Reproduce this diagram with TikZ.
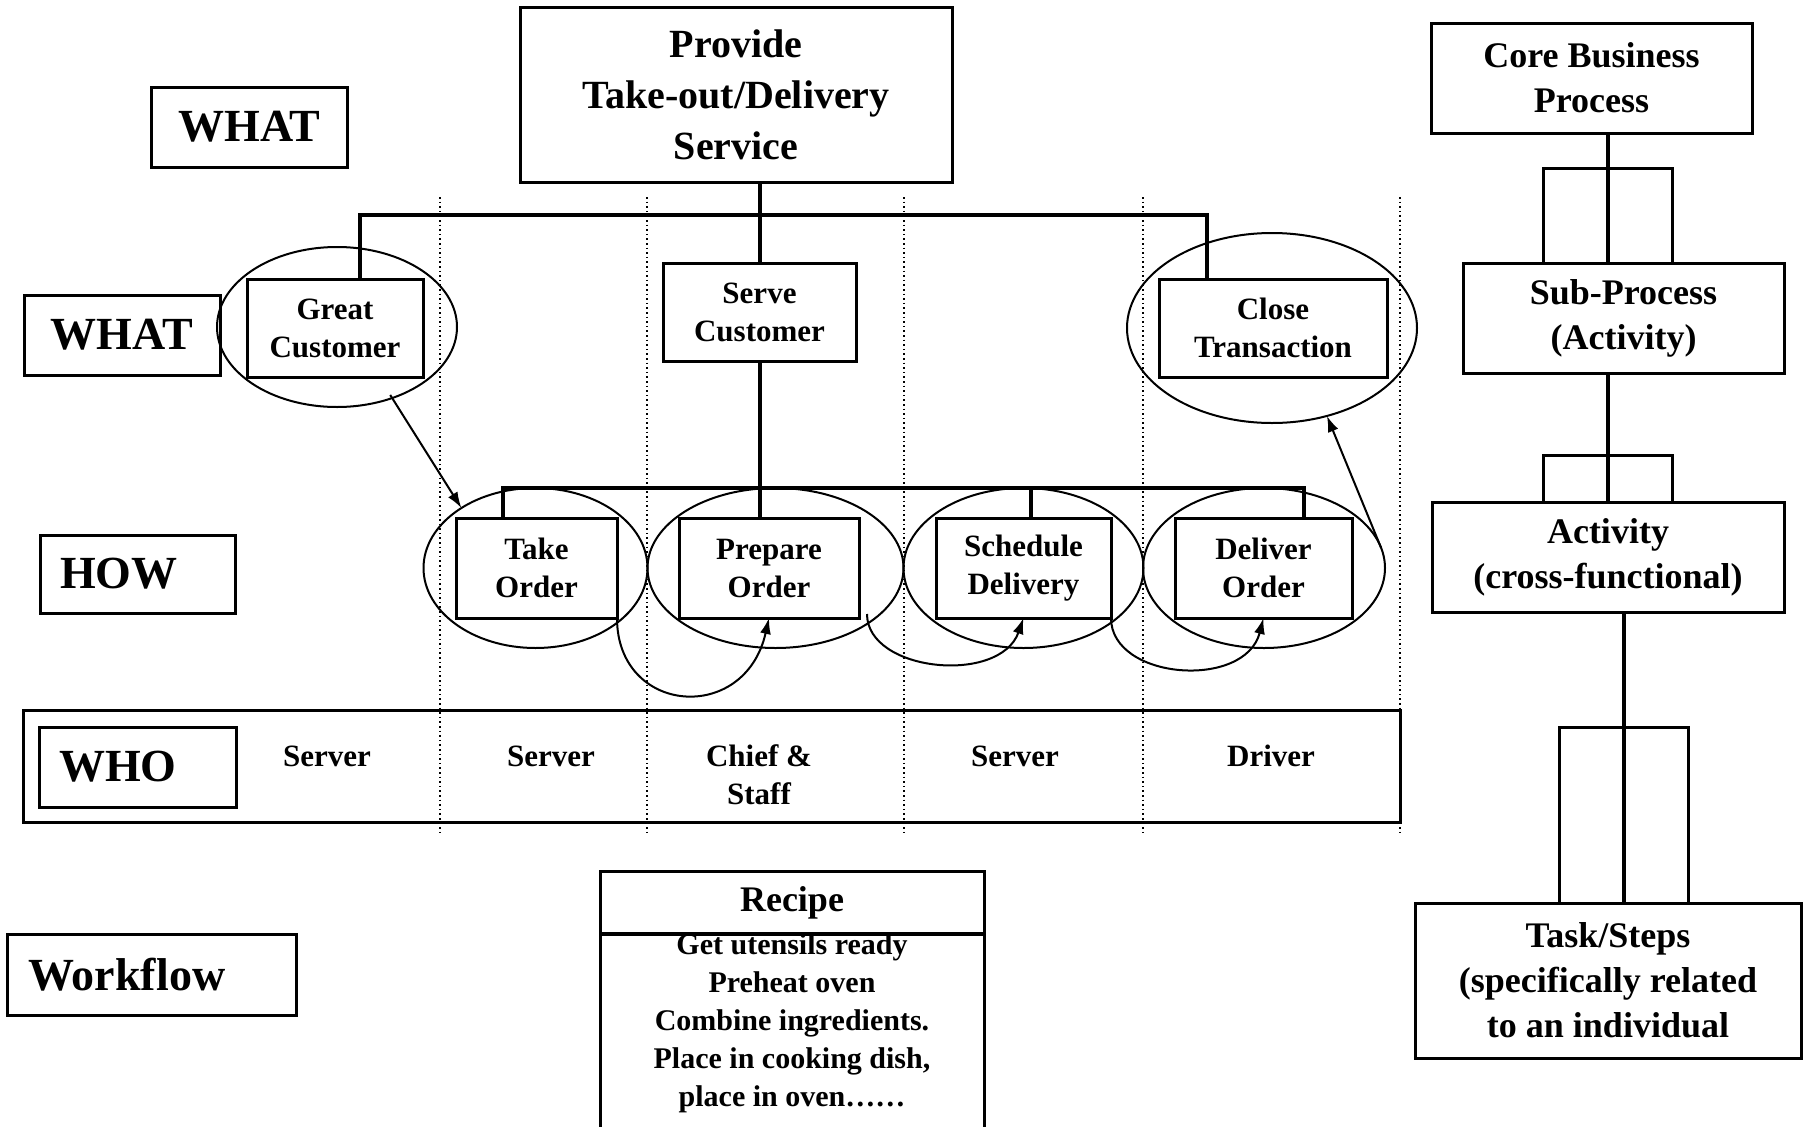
\documentclass[tikz,border=0pt]{standalone}
\usepackage{fontspec}
\setmainfont{Liberation Serif}
\usetikzlibrary{shapes.geometric,arrows.meta}

\begin{document}
\begin{tikzpicture}[x=1pt,y=-1pt,
  procbox/.style={draw,line width=3pt,rectangle,inner sep=0pt,outer sep=0pt,align=center,
    font=\bfseries\fontsize{31}{38}\selectfont},
  bigbox/.style={procbox,font=\bfseries\fontsize{40}{51}\selectfont},
  sidebox/.style={procbox,font=\bfseries\fontsize{36}{45}\selectfont},
  lbl/.style={procbox,font=\bfseries\fontsize{46}{52}\selectfont},
  rowtxt/.style={inner sep=0pt,align=center,font=\bfseries\fontsize{31}{38}\selectfont},
  steptxt/.style={inner sep=0pt,align=center,font=\bfseries\fontsize{30}{38}\selectfont},
  ovalring/.style={draw,ellipse,line width=2pt,inner sep=0pt,outer sep=0pt},
  treeline/.style={line width=4pt},
  brkline/.style={line width=3pt},
  dotguide/.style={line width=1.6pt,dash pattern=on 1.6pt off 3pt},
  flowarrow/.style={line width=2pt,-{Latex[length=16pt,width=11pt]}}
]
\useasboundingbox (0,0) rectangle (1808,1127);
\fill[white] (0,0) rectangle (1808,1127);

% swim-lane guides
\foreach \x in {440,647,904,1143,1400}
  \draw[dotguide] (\x,197) -- (\x,834);

% row labels
\node[lbl,minimum width=196,minimum height=80] (what1) at (249.5,127) {WHAT};
\node[lbl,minimum width=196,minimum height=80] (what2) at (122,335) {WHAT};
\node[lbl,minimum width=195,minimum height=78,text width=155pt,align=left] (how) at (137.5,574) {HOW};

% top process
\node[bigbox,minimum width=432,minimum height=175] (provide) at (736,95)
  {Provide\\Take-out/Delivery\\Service};

% sub-processes
\node[procbox,minimum width=176,minimum height=98] (great) at (335,328) {Great\\Customer};
\node[procbox,minimum width=193,minimum height=98] (serve) at (759.5,312) {Serve\\Customer};
\node[procbox,minimum width=228,minimum height=98] (close) at (1273,328) {Close\\Transaction};

% activities
\node[procbox,minimum width=161,minimum height=100] (take) at (536.5,568) {Take\\Order};
\node[procbox,minimum width=180,minimum height=100] (prepare) at (769,568) {Prepare\\Order};
\node[procbox,minimum width=175,minimum height=100] (schedule) at (1023.5,568) {Schedule\\Delivery};
\node[procbox,minimum width=177,minimum height=100] (deliver) at (1263.5,568) {Deliver\\Order};

% rings
\node[ovalring,minimum width=240,minimum height=160] (eGreat) at (337,327) {};
\node[ovalring,minimum width=290,minimum height=190] (eClose) at (1272,328) {};
\node[ovalring,minimum width=224,minimum height=160] (eTake) at (535.5,568) {};
\node[ovalring,minimum width=256,minimum height=160] (ePrep) at (775.5,568) {};
\node[ovalring,minimum width=240,minimum height=160] (eSched) at (1023.5,568) {};
\node[ovalring,minimum width=242,minimum height=160] (eDeliv) at (1264,568) {};

% hierarchy lines
\coordinate (tbL) at (360,215);
\coordinate (tbR) at (1207,215);
\draw[treeline] (tbL |- great.north) -- (tbL) -- (tbR) -- (tbR |- close.north);
\draw[treeline] (serve.north |- provide.south) -- (serve.north);
\draw[treeline] (serve.south) -- (serve.south |- prepare.north);
\coordinate (hbL) at (503,488);
\coordinate (hbR) at (1304,488);
\coordinate (hbS) at (1031,488);
\draw[treeline] (hbL |- take.north) -- (hbL) -- (hbR) -- (hbR |- deliver.north);
\draw[treeline] (hbS) -- (hbS |- schedule.north);

% flow arrows
\draw[flowarrow] ([shift={(4pt,5pt)}]eGreat.-56) -- (eTake.141);
\draw[flowarrow] (eDeliv.10) -- (eClose.-58);
\draw[flowarrow] (take.south east) .. controls +(0,97) and +(-24,107) .. (prepare.south);
\draw[flowarrow] ([xshift=8pt,yshift=4pt]prepare.south east) .. controls +(0,58) and +(-23.5,67) .. (schedule.south);
\draw[flowarrow] (schedule.south east) .. controls +(0,62) and +(-18.5,72) .. (deliver.south);

% who row
\node[draw,line width=3pt,inner sep=0pt,outer sep=0pt,minimum width=1377,minimum height=112] (whorow) at (711.5,766) {};
\node[lbl,minimum width=197,minimum height=80,text width=157pt,align=left] (who) at (137.5,767) {WHO};
\node[rowtxt] (r1) at (327,756) {Server};
\node[rowtxt] (r2) at (551,756) {Server};
\node[rowtxt] (r3) at (759,775) {Chief \&\\Staff};
\node[rowtxt] (r4) at (1015,756) {Server};
\node[rowtxt] (r5) at (1271,756) {Driver};

% workflow and recipe
\node[lbl,minimum width=289,minimum height=81,text width=246pt,align=left] (workflow) at (151.5,974.5) {Workflow};
\node[procbox,font=\bfseries\fontsize{36}{45}\selectfont,minimum width=384,minimum height=63] (recipe) at (792,902.5) {Recipe};
\draw[line width=4.5pt] (recipe.south west) -- (recipe.south east);
\draw[brkline] (recipe.south west) -- ++(0,260);
\draw[brkline] (recipe.south east) -- ++(0,260);
\node[steptxt] (steps) at (792,1023)
  {Get utensils ready\\Preheat oven\\Combine ingredients.\\Place in cooking dish,\\place in oven……};

% process levels
\node[sidebox,minimum width=321,minimum height=110] (core) at (1591.5,78) {Core Business\\Process};
\node[sidebox,minimum width=321,minimum height=110] (sub) at (1623.5,318) {Sub-Process\\(Activity)};
\node[sidebox,minimum width=352,minimum height=110] (activity) at (1608,557.5) {Activity\\(cross-functional)};
\node[sidebox,minimum width=386,minimum height=155] (task) at (1608,980.5) {Task/Steps\\(specifically related\\to an individual};

\coordinate (vA) at (1608,0);
\coordinate (vB) at (1624,0);
\draw[treeline] (vA |- core.south) -- (vA |- sub.north);
\draw[treeline] (vA |- sub.south) -- (vA |- activity.north);
\draw[treeline] (vB |- activity.south) -- (vB |- task.north);

\coordinate (k1L) at (1543,168);
\coordinate (k1R) at (1672,168);
\draw[brkline] (k1L |- sub.north) -- (k1L) -- (k1R) -- (k1R |- sub.north);
\coordinate (k2L) at (1543,455);
\coordinate (k2R) at (1672,455);
\draw[brkline] (k2L |- activity.north) -- (k2L) -- (k2R) -- (k2R |- activity.north);
\coordinate (k3L) at (1559,727);
\coordinate (k3R) at (1688,727);
\draw[brkline] (k3L |- task.north) -- (k3L) -- (k3R) -- (k3R |- task.north);
\end{tikzpicture}
\end{document}
